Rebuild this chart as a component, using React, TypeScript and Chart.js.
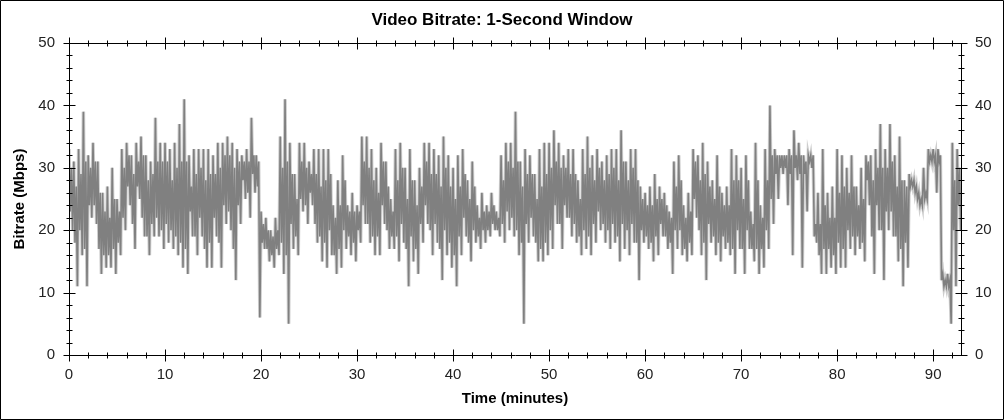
import { useEffect, useRef } from "react";
import { Chart, registerables } from "chart.js";

Chart.register(...registerables);

// Each bin covers half a minute. For every bin: highest and lowest bitrate (Mbps),
// plus the upper and lower edge of the dense core, all read off the picture.
const BIN_START = 0;
const BIN_WIDTH = 0.5;
const binHigh: number[] = [
  33, 31, 33, 39, 32, 34, 31, 26, 27, 30, 25, 33, 34, 32, 34, 35, 32, 31, 38, 34,
  34, 33, 34, 37, 41, 32, 33, 33, 33, 33, 32, 34, 34, 35, 34, 33, 32, 33, 38, 32,
  23, 22, 20, 22, 35, 41, 34, 29, 34, 34, 31, 33, 33, 33, 33, 24, 28, 32, 24, 26,
  24, 35, 35, 33, 30, 34, 31, 25, 33, 34, 30, 33, 28, 30, 34, 34, 33, 32, 35, 32,
  30, 32, 33, 28, 31, 24, 26, 24, 26, 23, 32, 34, 34, 39, 31, 33, 32, 29, 33, 34,
  34, 36, 34, 32, 33, 33, 28, 33, 35, 32, 33, 31, 32, 33, 33, 36, 31, 33, 33, 27,
  26, 27, 29, 27, 26, 23, 31, 32, 24, 26, 33, 32, 34, 31, 28, 32, 26, 27, 33, 32,
  30, 32, 23, 34, 24, 33, 40, 33, 32, 32, 33, 36, 34, 32, 32, 32, 26, 33, 26, 27,
  33, 32, 30, 32, 27, 30, 32, 32, 33, 37, 33, 37, 32, 35, 28, 29, 28, 26, 30, 33,
  33, 33, 13, 13, 34, 33,
];
const binCoreHigh: number[] = [
  30, 27, 29, 31, 30, 31, 26, 23, 22, 25, 23, 30, 32, 29, 31, 32, 28, 29, 31, 31,
  31, 28, 30, 31, 31, 27, 29, 30, 28, 29, 29, 30, 32, 32, 30, 31, 31, 31, 32, 31,
  21, 20, 19, 20, 30, 31, 29, 25, 31, 30, 29, 29, 27, 28, 29, 22, 24, 28, 23, 23,
  23, 31, 30, 28, 26, 31, 27, 23, 28, 30, 25, 28, 24, 27, 31, 29, 29, 27, 30, 27,
  25, 27, 29, 25, 27, 22, 23, 23, 24, 22, 28, 31, 30, 31, 27, 29, 29, 25, 27, 29,
  30, 31, 30, 30, 29, 29, 25, 29, 30, 28, 30, 28, 29, 30, 28, 31, 28, 30, 28, 25,
  24, 24, 25, 25, 24, 22, 27, 28, 22, 23, 31, 28, 29, 27, 25, 27, 24, 24, 28, 28,
  25, 28, 21, 28, 22, 28, 32, 32, 32, 32, 32, 32, 32, 31, 32, 21, 21, 24, 22, 22,
  26, 27, 26, 27, 24, 25, 31, 28, 30, 30, 30, 31, 27, 28, 27, 28, 27, 25, 26, 32,
  32, 32, 12, 12, 28, 30,
];
const binCoreLow: number[] = [
  23, 18, 20, 17, 24, 24, 17, 16, 16, 17, 18, 22, 27, 21, 27, 22, 19, 21, 22, 20,
  21, 20, 19, 18, 17, 23, 19, 22, 17, 18, 22, 18, 24, 23, 17, 24, 28, 26, 29, 27,
  18, 17, 16, 17, 18, 16, 21, 19, 25, 24, 26, 21, 19, 18, 20, 16, 17, 20, 19, 18,
  20, 24, 21, 19, 19, 24, 20, 19, 19, 21, 17, 19, 17, 21, 24, 20, 21, 17, 20, 18,
  16, 19, 22, 18, 20, 19, 20, 20, 21, 20, 21, 23, 22, 20, 18, 21, 22, 18, 17, 18,
  20, 24, 21, 24, 22, 21, 19, 20, 19, 21, 23, 21, 20, 21, 19, 21, 20, 21, 18, 20,
  19, 18, 19, 21, 19, 18, 20, 20, 17, 18, 25, 20, 18, 21, 19, 18, 19, 18, 17, 20,
  17, 20, 17, 17, 17, 20, 25, 29, 30, 30, 29, 30, 29, 29, 31, 19, 16, 17, 17, 16,
  18, 17, 20, 19, 19, 18, 28, 19, 24, 20, 23, 23, 19, 17, 18, 27, 26, 24, 25, 31,
  31, 31, 11, 11, 20, 24,
];
const binLow: number[] = [
  20, 11, 16, 11, 22, 21, 13, 14, 14, 13, 16, 20, 24, 17, 25, 19, 16, 19, 19, 17,
  18, 17, 16, 14, 13, 19, 16, 19, 14, 14, 19, 14, 21, 20, 12, 21, 25, 22, 26, 6,
  17, 15, 14, 16, 13, 5, 17, 16, 23, 21, 24, 18, 15, 14, 16, 13, 14, 17, 16, 15,
  18, 21, 18, 16, 16, 21, 17, 17, 15, 18, 11, 15, 13, 18, 21, 16, 18, 12, 16, 14,
  11, 16, 19, 15, 18, 17, 18, 19, 20, 19, 18, 20, 19, 16, 5, 18, 19, 15, 15, 16,
  17, 21, 17, 22, 19, 18, 16, 17, 16, 18, 20, 18, 17, 18, 15, 17, 16, 18, 12, 18,
  17, 15, 16, 19, 17, 13, 17, 16, 15, 16, 22, 16, 12, 18, 16, 15, 17, 16, 13, 17,
  13, 17, 15, 13, 14, 17, 21, 25, 29, 24, 16, 28, 14, 23, 30, 18, 13, 13, 14, 13,
  14, 14, 17, 16, 17, 15, 24, 13, 20, 12, 20, 19, 15, 11, 14, 27, 25, 24, 25, 31,
  26, 12, 11, 5, 11, 20,
];

const xTicks: number[] = [0, 10, 20, 30, 40, 50, 60, 70, 80, 90];
const yTicks: number[] = [0, 10, 20, 30, 40, 50];
const X_MIN = 0;
const X_MAX = 92.9;
const Y_MIN = 0;
const Y_MAX = 50;
const MINOR_STEP_X = 2;
const MINOR_STEP_Y = 2;

const TITLE = "Video Bitrate: 1-Second Window";
const X_TITLE = "Time (minutes)";
const Y_TITLE = "Bitrate (Mbps)";

const FONT = "'Liberation Sans', Arial, sans-serif";

function buildPoints() {
  const pts: { x: number; y: number }[] = [];
  const q = BIN_WIDTH / 4;
  for (let i = 0; i < binHigh.length; i++) {
    const t = BIN_START + i * BIN_WIDTH;
    pts.push({ x: t, y: binHigh[i] });
    pts.push({ x: t + q, y: binCoreLow[i] });
    pts.push({ x: t + 2 * q, y: binCoreHigh[i] });
    pts.push({ x: t + 3 * q, y: binLow[i] });
  }
  return pts;
}

const framePlugin = {
  id: "frame",
  afterDraw(chart: any) {
    const { ctx, chartArea, scales, width, height } = chart;
    const { left, right, top, bottom } = chartArea;
    ctx.save();
    ctx.strokeStyle = "#000";
    ctx.lineWidth = 1;
    const L = Math.round(left) + 0.5;
    const R = Math.round(right) + 0.5;
    const T = Math.round(top) + 0.5;
    const B = Math.round(bottom) + 0.5;
    ctx.beginPath();
    ctx.rect(L, T, R - L, B - T);
    ctx.stroke();
    const line = (x1: number, y1: number, x2: number, y2: number) => {
      ctx.beginPath();
      ctx.moveTo(x1, y1);
      ctx.lineTo(x2, y2);
      ctx.stroke();
    };
    for (let v = Y_MIN; v <= Y_MAX + 1e-9; v += MINOR_STEP_Y) {
      const y = Math.round(scales.y.getPixelForValue(v)) + 0.5;
      const major = yTicks.includes(v);
      const len = major ? 6 : 3;
      line(L - len, y, L + len, y);
      line(R - len, y, R + len, y);
    }
    for (let v = X_MIN; v <= X_MAX + 1e-9; v += MINOR_STEP_X) {
      const x = Math.round(scales.x.getPixelForValue(v)) + 0.5;
      const major = xTicks.includes(v);
      const len = major ? 6 : 3;
      line(x, B - len, x, B + len);
      line(x, T - len, x, T + len);
    }
    ctx.beginPath();
    ctx.rect(0.5, 0.5, width - 1, height - 1);
    ctx.stroke();
    ctx.restore();
  },
};

export default function App() {
  const ref = useRef<HTMLCanvasElement | null>(null);

  useEffect(() => {
    if (!ref.current) return;
    const points = buildPoints();
    const tickFont = { family: FONT, size: 15 };
    const titleFont = { family: FONT, size: 15, weight: "bold" as const };
    const chart = new Chart(ref.current, {
      type: "line",
      data: {
        datasets: [
          {
            data: points,
            borderColor: "#808080",
            borderWidth: 1.6,
            pointRadius: 0,
            tension: 0,
            order: 0,
          },
          {
            data: points,
            borderColor: "#cecece",
            borderWidth: 3.5,
            pointRadius: 0,
            tension: 0,
            order: 1,
          },
        ],
      },
      options: {
        animation: false,
        responsive: false,
        devicePixelRatio: 1,
        events: [],
        layout: { padding: 0 },
        plugins: {
          legend: { display: false },
          tooltip: { enabled: false },
          title: {
            display: true,
            text: TITLE,
            color: "#000",
            font: { family: FONT, size: 17, weight: "bold" },
            padding: { top: 10, bottom: 12.6 },
          },
        },
        scales: {
          x: {
            type: "linear",
            min: X_MIN,
            max: X_MAX,
            afterBuildTicks: (s: any) => {
              s.ticks = xTicks.map((v) => ({ value: v }));
            },
            afterFit: (s: any) => {
              s.height = 65;
            },
            grid: { display: false, drawTicks: false },
            border: { display: false },
            ticks: { font: tickFont, color: "#222", padding: 11, maxRotation: 0 },
            title: {
              display: true,
              text: X_TITLE,
              color: "#000",
              font: titleFont,
              padding: { top: 0, bottom: 12 },
            },
          },
          y: {
            type: "linear",
            position: "left",
            min: Y_MIN,
            max: Y_MAX,
            afterBuildTicks: (s: any) => {
              s.ticks = yTicks.map((v) => ({ value: v }));
            },
            afterFit: (s: any) => {
              s.width = 69;
            },
            grid: { display: false, drawTicks: false },
            border: { display: false },
            ticks: { font: tickFont, color: "#222", padding: 14 },
            title: {
              display: true,
              text: Y_TITLE,
              color: "#000",
              font: titleFont,
              padding: { top: 11, bottom: 0 },
            },
          },
          y2: {
            type: "linear",
            position: "right",
            min: Y_MIN,
            max: Y_MAX,
            afterBuildTicks: (s: any) => {
              s.ticks = yTicks.map((v) => ({ value: v }));
            },
            afterFit: (s: any) => {
              s.width = 43;
            },
            grid: { display: false, drawTicks: false },
            border: { display: false },
            ticks: { font: tickFont, color: "#222", padding: 14 },
          },
        },
      },
      plugins: [framePlugin],
    });
    return () => chart.destroy();
  }, []);

  return (
    <div style={{ position: "fixed", left: 0, top: 0, width: 1004, height: 420, background: "#fff" }}>
      <canvas ref={ref} width={1004} height={420} style={{ display: "block" }} />
    </div>
  );
}
